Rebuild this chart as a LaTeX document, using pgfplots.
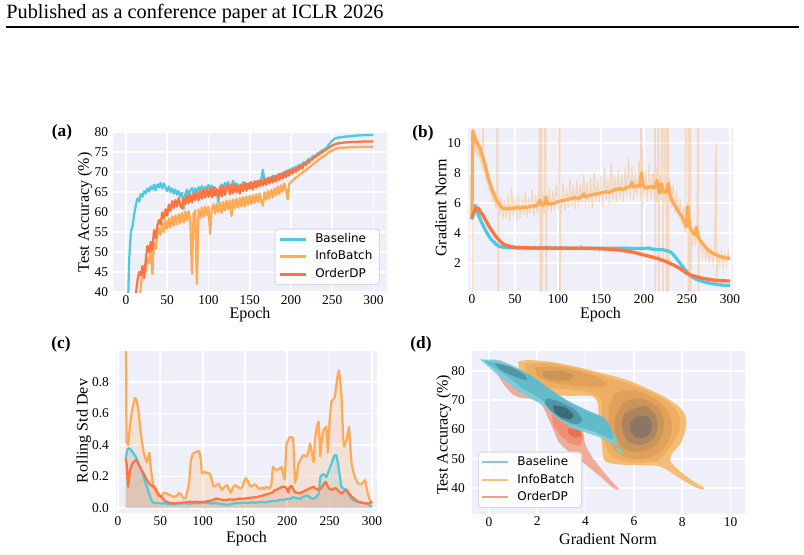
\documentclass[border=0pt]{standalone}
\usepackage{fontspec}
\setmainfont{Liberation Serif}
\newfontfamily\legendfont{DejaVu Sans}
\usepackage{pgfplots}
\usepackage{pgfplotstable}
\pgfplotsset{compat=1.18}

\definecolor{bgc}{RGB}{238,239,248}
\definecolor{cBase}{RGB}{80,200,222}
\definecolor{cInfo}{RGB}{255,170,85}
\definecolor{cOrd}{RGB}{255,115,65}
% density levels
\definecolor{ib1}{RGB}{245,188,115}
\definecolor{ib2}{RGB}{237,174,98}
\definecolor{ib3}{RGB}{224,161,88}
\definecolor{ib4}{RGB}{203,149,88}
\definecolor{ib5}{RGB}{172,133,95}
\definecolor{ib6}{RGB}{138,117,102}
\definecolor{bl1}{RGB}{115,207,224}
\definecolor{bl2}{RGB}{95,185,202}
\definecolor{bl3}{RGB}{78,148,164}
\definecolor{bl4}{RGB}{58,104,118}
\definecolor{or1}{RGB}{240,165,145}
\definecolor{or2}{RGB}{238,140,115}
\definecolor{or3}{RGB}{230,110,80}

\pgfplotsset{
  panel/.style={
    scale only axis,
    axis background/.style={fill=bgc},
    axis line style={draw=none},
    xmajorgrids, ymajorgrids,
    major grid style={white, line width=0.85pt},
    major tick length=0pt,
    tick style={draw=none},
    tick label style={font=\fontsize{6.6}{7}\selectfont},
    xticklabel style={yshift=2pt},
    label style={font=\fontsize{7.9}{9}\selectfont},
    /pgf/number format/assume math mode=true,
    legend cell align=left,
    legend image code/.code={\draw[##1] (0pt,0pt) -- (12.8pt,0pt);},
    legend style={font=\legendfont\fontsize{5.9}{7}\selectfont,
      draw=black!15, rounded corners=1.5pt, fill=white, fill opacity=0.85,
      text opacity=1, inner xsep=1.5pt, inner ysep=1.2pt, row sep=0.9pt,
      nodes={inner ysep=1pt, inner xsep=2pt, text height=4.4pt, text depth=1.3pt},
      /tikz/every odd column/.append style={column sep=2pt}},
  },
  dens/.style={draw=none, forget plot, smooth, tension=0.5},
}

% ---------------- (a) test accuracy ----------------
\pgfplotstableread[row sep=\\]{x y\\
0 25\\ 2 33\\ 4 48.5\\ 6 55\\ 8 56.5\\ 10 59.5\\ 12 61.8\\ 14 63.4\\ 16 62.6\\ 18 64.5\\
20 63.8\\ 22 65.2\\ 24 64.6\\ 26 65.9\\ 28 65.1\\ 30 66.4\\ 32 65.6\\ 34 66.8\\ 36 65.4\\ 38 66.9\\
40 66.2\\ 42 67.3\\ 44 65.9\\ 46 67.1\\ 48 66.0\\ 50 65.3\\ 52 66.4\\ 54 65.0\\ 56 65.9\\ 58 64.6\\
60 65.6\\ 62 64.3\\ 64 65.2\\ 66 63.9\\ 68 64.8\\ 70 60.8\\ 72 64.5\\ 74 65.6\\ 76 64.2\\ 78 65.3\\
80 66.0\\ 82 64.8\\ 84 65.9\\ 86 64.6\\ 88 66.2\\ 90 65.4\\ 92 66.5\\ 94 65.1\\ 96 66.3\\ 98 65.7\\
100 66.8\\ 102 65.5\\ 104 66.6\\ 106 64.9\\ 108 66.2\\ 110 65.0\\ 112 62.5\\ 114 65.8\\ 116 66.9\\ 118 65.6\\
120 67.3\\ 122 66.1\\ 124 67.5\\ 126 65.8\\ 128 66.7\\ 130 67.8\\ 132 66.0\\ 134 67.2\\ 136 65.9\\ 138 66.8\\
140 66.3\\ 142 67.4\\ 144 66.2\\ 146 67.0\\ 148 66.5\\ 150 67.3\\ 152 66.4\\ 154 67.1\\ 156 66.7\\ 158 67.6\\
160 66.9\\ 162 67.8\\ 164 68.0\\ 166 70.6\\ 168 67.5\\ 170 68.2\\ 172 67.6\\ 174 68.6\\ 176 68.0\\ 178 69.1\\
180 68.3\\ 182 69.0\\ 184 68.6\\ 186 69.6\\ 188 69.0\\ 190 69.8\\ 192 69.3\\ 194 70.3\\ 196 69.7\\ 198 70.6\\
200 70.4\\ 202 71.0\\ 204 70.6\\ 206 71.4\\ 208 71.0\\ 210 71.8\\ 212 71.4\\ 214 72.1\\ 216 72.5\\ 218 72.2\\
220 72.9\\ 222 73.3\\ 224 73.1\\ 226 73.8\\ 228 74.1\\ 230 74.0\\ 232 74.6\\ 234 74.8\\ 236 75.1\\ 238 75.4\\
240 75.6\\ 242 75.9\\ 244 76.3\\ 246 76.8\\ 248 77.3\\ 250 77.8\\ 252 78.2\\ 254 78.4\\ 256 78.5\\ 258 78.7\\
260 78.6\\ 262 78.8\\ 264 78.7\\ 266 78.9\\ 268 78.8\\ 270 79.0\\ 272 78.9\\ 274 79.0\\ 276 79.1\\ 278 79.0\\
280 79.2\\ 282 79.1\\ 284 79.2\\ 286 79.1\\ 288 79.3\\ 290 79.2\\ 292 79.3\\ 294 79.2\\ 296 79.3\\ 298 79.2\\ 300 79.3\\
}\aBase

\pgfplotstableread[row sep=\\]{x y\\
16 36\\ 18 41.5\\ 20 44.5\\ 22 46.5\\ 24 45\\ 26 48.5\\ 28 47.2\\ 30 50.5\\ 32 44.5\\ 34 52.5\\
36 50.8\\ 38 54.2\\ 40 56.0\\ 42 54.3\\ 44 57.4\\ 46 55.0\\ 48 57.9\\ 50 55.8\\ 52 58.4\\ 54 56.2\\
56 58.9\\ 58 56.6\\ 60 59.1\\ 62 56.9\\ 64 59.4\\ 66 57.2\\ 68 59.8\\ 70 57.4\\ 72 60.1\\ 74 57.9\\
76 60.2\\ 78 58.0\\ 80 44.5\\ 82 59.6\\ 84 60.4\\ 86 42.0\\ 88 60.6\\ 90 58.4\\ 92 61.1\\ 94 58.8\\
96 61.4\\ 98 59.2\\ 100 61.3\\ 102 54.5\\ 104 60.9\\ 106 61.9\\ 108 59.6\\ 110 62.1\\ 112 60.0\\ 114 62.3\\
116 59.8\\ 118 62.5\\ 120 60.4\\ 122 62.8\\ 124 60.7\\ 126 62.9\\ 128 59.0\\ 130 63.1\\ 132 61.0\\ 134 63.3\\
136 61.1\\ 138 63.5\\ 140 61.4\\ 142 63.7\\ 144 61.5\\ 146 63.9\\ 148 61.8\\ 150 64.0\\ 152 62.0\\ 154 64.2\\
156 62.3\\ 158 64.5\\ 160 62.5\\ 162 64.6\\ 164 62.7\\ 166 61.6\\ 168 64.9\\ 170 63.1\\ 172 65.2\\ 174 63.4\\
176 65.5\\ 178 63.7\\ 180 65.9\\ 182 64.2\\ 184 66.3\\ 186 64.5\\ 188 66.7\\ 190 65.1\\ 192 67.1\\ 194 65.5\\
196 63.2\\ 198 67.0\\ 200 67.5\\ 202 67.9\\ 204 68.2\\ 206 68.6\\ 208 68.9\\ 210 69.3\\ 212 69.5\\ 214 69.9\\
216 70.2\\ 218 70.4\\ 220 70.8\\ 222 71.1\\ 224 71.4\\ 226 71.8\\ 228 72.1\\ 230 72.5\\ 232 72.8\\ 234 73.1\\
236 73.4\\ 238 73.7\\ 240 74.0\\ 242 74.3\\ 244 74.6\\ 246 74.9\\ 248 75.1\\ 250 75.4\\ 252 75.6\\ 254 75.8\\
256 75.9\\ 258 76.0\\ 262 76.05\\ 266 76.1\\ 270 76.15\\ 274 76.2\\ 278 76.2\\ 282 76.25\\ 286 76.3\\ 290 76.3\\
294 76.3\\ 298 76.35\\ 300 76.3\\
}\aInfo

\pgfplotstableread[row sep=\\]{x y\\
10 35\\ 12 39.5\\ 14 43\\ 16 45\\ 18 44.2\\ 20 46.5\\ 22 43.5\\ 24 48\\ 26 51.5\\ 28 50\\
30 52.5\\ 32 50.5\\ 34 55.5\\ 36 53.5\\ 38 56.5\\ 40 58\\ 42 57.0\\ 44 59.9\\ 46 58.3\\ 48 60.7\\
50 59.1\\ 52 61.9\\ 54 60.3\\ 56 62.7\\ 58 61.0\\ 60 63.0\\ 62 61.4\\ 64 63.6\\ 66 61.6\\ 68 60.9\\
70 63.4\\ 72 61.9\\ 74 64.2\\ 76 62.2\\ 78 64.4\\ 80 62.4\\ 82 64.7\\ 84 63.0\\ 86 65.0\\ 88 62.9\\
90 65.3\\ 92 63.3\\ 94 65.6\\ 96 63.6\\ 98 65.8\\ 100 63.8\\ 102 65.9\\ 104 63.7\\ 106 66.2\\ 108 64.1\\
110 65.7\\ 112 64.0\\ 114 66.3\\ 116 63.9\\ 118 66.4\\ 120 64.3\\ 122 66.0\\ 124 66.7\\ 126 64.4\\ 128 66.8\\
130 64.7\\ 132 67.0\\ 134 64.9\\ 136 66.5\\ 138 64.6\\ 140 66.9\\ 142 65.2\\ 144 67.4\\ 146 65.3\\ 148 67.1\\
150 65.8\\ 152 67.5\\ 154 65.6\\ 156 67.7\\ 158 66.1\\ 160 67.8\\ 162 66.4\\ 164 68.0\\ 166 66.6\\ 168 68.3\\
170 66.8\\ 172 68.5\\ 174 67.1\\ 176 68.7\\ 178 67.4\\ 180 69.0\\ 182 67.6\\ 184 69.3\\ 186 68.0\\ 188 69.6\\
190 68.4\\ 192 70.0\\ 194 68.7\\ 196 70.3\\ 198 69.1\\ 200 70.5\\ 202 69.6\\ 204 70.9\\ 206 70.0\\ 208 71.3\\
210 70.5\\ 212 71.7\\ 214 70.9\\ 216 72.2\\ 218 71.7\\ 220 72.7\\ 222 72.3\\ 224 73.1\\ 226 73.1\\ 228 73.7\\
230 73.7\\ 232 74.3\\ 234 74.3\\ 236 74.8\\ 238 74.9\\ 240 75.3\\ 242 75.5\\ 244 75.8\\ 246 76.1\\ 248 76.3\\
250 76.6\\ 252 76.8\\ 254 77.0\\ 256 77.1\\ 258 77.2\\ 262 77.3\\ 266 77.4\\ 270 77.45\\ 274 77.5\\ 278 77.5\\
282 77.55\\ 286 77.6\\ 290 77.6\\ 294 77.6\\ 298 77.65\\ 300 77.6\\
}\aOrd

% ---------------- (b) gradient norm ----------------
\pgfplotstableread[row sep=\\]{x y\\
0 4.9\\ 1 5.5\\ 3 5.85\\ 5 5.6\\ 7 5.25\\ 10 4.85\\ 13 4.5\\ 16 4.15\\ 19 3.85\\ 22 3.6\\
25 3.42\\ 28 3.25\\ 31 3.13\\ 34 3.07\\ 38 3.04\\ 45 3.02\\ 55 3.0\\ 70 3.0\\ 90 2.99\\ 110 2.99\\
130 2.98\\ 150 2.98\\ 170 2.98\\ 190 2.97\\ 200 2.96\\ 205 3.0\\ 210 2.92\\ 215 2.9\\ 222 2.88\\ 226 2.82\\
230 2.76\\ 233 2.62\\ 236 2.42\\ 239 2.2\\ 242 1.98\\ 245 1.75\\ 248 1.53\\ 251 1.33\\ 254 1.17\\ 257 1.03\\
261 0.91\\ 265 0.82\\ 270 0.74\\ 275 0.67\\ 280 0.62\\ 285 0.57\\ 290 0.53\\ 295 0.5\\ 300 0.49\\
}\bBase

\pgfplotstableread[row sep=\\]{x y\\
0 5.0\\ 1 10.8\\ 3 10.4\\ 5 10.1\\ 7 9.9\\ 9 9.7\\ 11 9.3\\ 13 9.0\\ 15 8.6\\ 17 8.1\\
19 7.65\\ 21 7.3\\ 23 6.95\\ 25 6.65\\ 27 6.4\\ 29 6.15\\ 31 6.0\\ 33 5.8\\ 36 5.65\\ 40 5.6\\
44 5.65\\ 48 5.62\\ 52 5.7\\ 56 5.65\\ 60 5.72\\ 64 5.7\\ 68 5.78\\ 72 5.8\\ 76 5.85\\ 79 6.2\\
81 5.85\\ 84 5.9\\ 86 6.4\\ 88 5.9\\ 92 5.95\\ 96 6.0\\ 100 6.1\\ 104 6.15\\ 108 6.2\\ 112 6.25\\
116 6.3\\ 120 6.35\\ 124 6.3\\ 128 6.45\\ 130 6.6\\ 132 6.4\\ 136 6.5\\ 140 6.55\\ 144 6.6\\ 148 6.65\\
152 6.7\\ 156 6.75\\ 160 6.7\\ 164 6.85\\ 168 6.9\\ 172 6.95\\ 176 6.9\\ 180 7.05\\ 184 7.1\\ 186 7.4\\
188 7.05\\ 192 7.15\\ 195 7.1\\ 197 8.0\\ 199 7.2\\ 201 7.0\\ 205 7.05\\ 209 7.1\\ 212 7.0\\ 215 7.5\\
218 6.65\\ 220 7.3\\ 222 6.8\\ 224 6.7\\ 226 6.75\\ 228 7.3\\ 230 6.6\\ 232 6.2\\ 235 5.9\\ 238 5.64\\
241 5.35\\ 244 5.09\\ 247 4.7\\ 249 4.42\\ 251 5.76\\ 253 4.5\\ 255 4.2\\ 257 4.0\\ 259 3.87\\ 261 4.4\\
263 3.75\\ 265 3.53\\ 268 3.3\\ 271 3.09\\ 274 2.9\\ 277 2.76\\ 280 2.65\\ 284 2.53\\ 288 2.44\\ 292 2.38\\
296 2.33\\ 300 2.31\\
}\bInfo

\pgfplotstableread[row sep=\\]{x y\\
0 5.0\\ 2 5.35\\ 4 5.6\\ 6 5.68\\ 8 5.6\\ 10 5.4\\ 13 5.15\\ 16 4.85\\ 19 4.53\\ 22 4.25\\
25 4.0\\ 28 3.75\\ 31 3.55\\ 34 3.38\\ 37 3.25\\ 41 3.15\\ 46 3.08\\ 52 3.04\\ 60 3.02\\ 70 3.0\\
90 2.99\\ 110 2.98\\ 130 2.98\\ 150 2.95\\ 168 2.88\\ 184 2.76\\ 199 2.55\\ 215 2.31\\ 226 2.09\\ 238 1.76\\
244 1.55\\ 249 1.33\\ 254 1.2\\ 260 1.1\\ 265 1.02\\ 270 0.96\\ 277 0.9\\ 284 0.84\\ 292 0.81\\ 300 0.8\\
}\bOrd

% per-epoch InfoBatch gradient norm, with its outlier epochs
\pgfplotstableread[row sep=\\]{x y\\
0 5.0\\ 0.5 40\\ 0.7 -5\\ 1 11.3\\ 2 9.6\\ 3 10.9\\ 4 9.4\\ 5 10.6\\ 6 9.2\\ 7 10.3\\
8 9.0\\ 9 10.1\\ 10 8.7\\ 11 9.8\\ 12 8.2\\ 13 11.5\\ 14 8.0\\ 15 8.9\\ 16 7.6\\ 17 8.5\\
18 7.2\\ 19 8.0\\ 20 6.8\\ 21 7.6\\ 22 6.5\\ 23 7.2\\ 24 6.1\\ 25 7.0\\ 26 5.9\\ 27 6.6\\
28 5.6\\ 29 6.5\\ 30 40\\ 30.2 -5\\ 31 6.1\\ 32 5.1\\ 34 6.4\\ 36 4.9\\ 38 6.2\\ 40 5.0\\
42 6.5\\ 44 4.8\\ 46 7.0\\ 48 5.1\\ 50 6.3\\ 52 4.9\\ 54 6.6\\ 56 5.0\\ 58 6.2\\ 60 5.2\\
62 6.8\\ 64 5.0\\ 66 6.4\\ 68 5.3\\ 70 6.9\\ 72 5.1\\ 74 6.5\\ 76 5.3\\ 78 6.7\\ 79 40\\
79.2 -5\\ 80 5.4\\ 81 40\\ 81.2 -5\\ 82 6.6\\ 84 5.3\\ 86 40\\ 86.2 -5\\ 87 6.4\\ 88 5.6\\
90 7.0\\ 92 5.4\\ 94 6.8\\ 96 5.5\\ 98 7.2\\ 100 5.6\\ 102 40\\ 102.2 -5\\ 103 6.0\\ 104 5.6\\
106 7.3\\ 108 5.5\\ 110 7.0\\ 112 5.7\\ 114 7.6\\ 116 5.8\\ 118 7.2\\ 120 5.6\\ 122 7.5\\ 124 5.8\\
126 7.3\\ 128 6.0\\ 130 7.9\\ 132 5.9\\ 134 7.4\\ 136 6.0\\ 138 7.7\\ 140 5.7\\ 142 8.0\\ 144 6.1\\
146 7.5\\ 148 6.0\\ 150 7.8\\ 152 5.8\\ 154 8.4\\ 156 6.2\\ 158 7.6\\ 160 5.9\\ 162 8.7\\ 164 6.2\\
166 7.8\\ 168 6.0\\ 170 8.2\\ 172 6.3\\ 174 7.9\\ 176 6.1\\ 178 8.3\\ 180 6.4\\ 182 9.0\\ 184 6.3\\
186 8.5\\ 188 6.2\\ 190 8.1\\ 192 6.5\\ 194 8.8\\ 196 6.4\\ 197 40\\ 197.2 2.3\\ 198 9.6\\ 200 6.3\\
202 8.2\\ 204 6.1\\ 206 8.6\\ 208 6.3\\ 210 8.0\\ 212 6.2\\ 213 40\\ 213.2 -5\\ 214 8.4\\ 216 6.0\\
217 40\\ 217.2 -5\\ 218 7.9\\ 220 6.2\\ 222 40\\ 222.2 -5\\ 223 7.4\\ 224 6.0\\ 226 40\\ 226.2 -5\\
227 7.0\\ 228 40\\ 228.2 -5\\ 229 6.5\\ 230 7.6\\ 232 5.7\\ 234 7.2\\ 236 5.3\\ 238 6.8\\ 240 5.0\\
242 6.3\\ 244 4.6\\ 246 5.7\\ 248 4.0\\ 250 40\\ 250.2 -5\\ 251 5.2\\ 252 40\\ 252.2 -5\\ 253 4.5\\
254 40\\ 254.2 -5\\ 255 3.6\\ 256 3.3\\ 258 4.2\\ 260 3.2\\ 262 4.6\\ 263 40\\ 263.2 -5\\ 264 2.8\\
266 3.5\\ 268 2.5\\ 270 3.2\\ 272 2.3\\ 274 3.0\\ 276 2.1\\ 278 2.9\\ 280 2.0\\ 282 2.8\\ 284 10.0\\
284.2 0.5\\ 286 2.6\\ 288 1.9\\ 290 2.7\\ 292 1.8\\ 294 2.6\\ 296 1.9\\ 298 2.8\\ 300 2.2\\
}\bInfoRaw

\pgfplotstableread[row sep=\\]{x y\\
0 4.9\\ 2 5.5\\ 4 5.75\\ 6 5.9\\ 8 5.5\\ 10 5.55\\ 12 5.05\\ 14 5.1\\ 16 4.7\\ 18 4.75\\
20 4.3\\ 22 4.35\\ 24 3.95\\ 26 4.0\\ 28 3.65\\ 30 3.7\\ 32 3.4\\ 34 3.45\\ 36 3.2\\ 38 3.3\\
40 3.05\\ 43 3.25\\ 46 2.95\\ 49 3.18\\ 52 2.9\\ 55 3.15\\ 58 2.92\\ 61 3.12\\ 64 2.88\\ 67 3.1\\
70 2.9\\ 73 3.15\\ 76 2.87\\ 79 3.12\\ 82 2.9\\ 85 3.1\\ 88 2.86\\ 91 3.13\\ 94 2.88\\ 97 3.1\\
100 2.85\\ 103 3.12\\ 106 2.88\\ 109 3.08\\ 112 2.87\\ 115 3.11\\ 118 2.86\\ 121 3.1\\ 124 2.88\\ 127 3.2\\
130 2.86\\ 133 3.07\\ 136 2.85\\ 139 3.08\\ 142 2.84\\ 145 3.05\\ 148 2.82\\ 151 3.06\\ 154 2.8\\ 157 3.02\\
160 2.8\\ 163 3.0\\ 166 2.78\\ 169 2.98\\ 172 2.76\\ 175 2.96\\ 178 2.7\\ 181 2.92\\ 184 2.65\\ 187 2.88\\
190 2.6\\ 193 2.75\\ 196 2.48\\ 199 2.68\\ 202 2.4\\ 205 2.6\\ 208 2.32\\ 211 2.5\\ 214 2.22\\ 217 2.42\\
220 2.1\\ 223 2.25\\ 226 1.98\\ 229 2.12\\ 232 1.82\\ 235 1.95\\ 238 1.66\\ 241 1.75\\ 244 1.46\\ 247 1.5\\
250 1.25\\ 253 1.3\\ 256 1.1\\ 259 1.18\\ 262 1.0\\ 265 1.08\\ 268 0.9\\ 271 1.02\\ 274 0.85\\ 277 0.97\\
280 0.78\\ 283 0.92\\ 286 0.74\\ 289 0.9\\ 292 0.72\\ 295 0.9\\ 298 0.73\\ 300 0.85\\
}\bOrdRaw

% ---------------- (c) rolling standard deviation ----------------
\pgfplotstableread[row sep=\\]{x y\\
9 0.315\\ 11 0.37\\ 13 0.38\\ 15 0.37\\ 17 0.357\\ 19 0.34\\ 21 0.326\\ 23 0.30\\ 25 0.27\\ 27 0.25\\
29 0.22\\ 31 0.18\\ 33 0.15\\ 35 0.12\\ 37 0.085\\ 39 0.055\\ 41 0.037\\ 43 0.032\\ 45 0.03\\ 47 0.033\\
49 0.03\\ 51 0.028\\ 53 0.032\\ 55 0.03\\ 57 0.027\\ 60 0.024\\ 63 0.025\\ 66 0.022\\ 69 0.027\\ 72 0.03\\
75 0.028\\ 78 0.031\\ 81 0.03\\ 84 0.027\\ 87 0.03\\ 90 0.033\\ 93 0.029\\ 96 0.031\\ 99 0.03\\ 102 0.035\\
105 0.032\\ 108 0.03\\ 111 0.028\\ 114 0.033\\ 117 0.03\\ 120 0.027\\ 123 0.024\\ 126 0.022\\ 129 0.02\\ 132 0.022\\
135 0.026\\ 138 0.03\\ 141 0.032\\ 144 0.03\\ 147 0.035\\ 150 0.033\\ 153 0.031\\ 156 0.034\\ 159 0.036\\ 162 0.033\\
165 0.036\\ 168 0.038\\ 171 0.037\\ 174 0.035\\ 177 0.039\\ 180 0.042\\ 183 0.045\\ 186 0.043\\ 189 0.048\\ 192 0.052\\
195 0.05\\ 198 0.055\\ 201 0.06\\ 204 0.058\\ 207 0.069\\ 210 0.064\\ 213 0.06\\ 215 0.058\\ 218 0.07\\ 221 0.075\\
223 0.08\\ 226 0.07\\ 229 0.06\\ 231 0.058\\ 234 0.07\\ 237 0.09\\ 239 0.195\\ 241 0.21\\ 243 0.215\\ 245 0.205\\
246 0.195\\ 248 0.22\\ 250 0.25\\ 252 0.28\\ 254 0.31\\ 256 0.336\\ 258 0.335\\ 260 0.28\\ 261 0.24\\ 263 0.17\\
264 0.135\\ 266 0.125\\ 268 0.12\\ 270 0.115\\ 272 0.09\\ 274 0.072\\ 276 0.06\\ 278 0.05\\ 280 0.045\\ 282 0.04\\
286 0.035\\ 290 0.032\\ 294 0.03\\ 297 0.02\\ 300 0.008\\
}\cBase

\pgfplotstableread[row sep=\\]{x y\\
9 1.5\\ 10 0.42\\ 12 0.40\\ 14 0.52\\ 16 0.60\\ 18 0.66\\ 20 0.70\\ 22 0.68\\ 24 0.62\\ 26 0.52\\
28 0.43\\ 30 0.36\\ 32 0.32\\ 34 0.29\\ 36 0.33\\ 37 0.35\\ 39 0.24\\ 40 0.20\\ 42 0.13\\ 44 0.11\\
46 0.095\\ 48 0.075\\ 50 0.07\\ 52 0.08\\ 54 0.095\\ 56 0.097\\ 58 0.09\\ 60 0.085\\ 62 0.08\\ 64 0.075\\
66 0.07\\ 68 0.075\\ 70 0.08\\ 72 0.095\\ 74 0.09\\ 76 0.07\\ 78 0.06\\ 80 0.065\\ 82 0.11\\ 84 0.16\\
86 0.30\\ 88 0.34\\ 90 0.35\\ 92 0.355\\ 94 0.36\\ 96 0.36\\ 98 0.30\\ 99 0.22\\ 101 0.225\\ 103 0.23\\
105 0.22\\ 107 0.22\\ 109 0.215\\ 111 0.17\\ 113 0.135\\ 115 0.14\\ 117 0.15\\ 119 0.155\\ 121 0.13\\ 123 0.115\\
125 0.13\\ 127 0.14\\ 129 0.145\\ 131 0.12\\ 133 0.095\\ 135 0.12\\ 137 0.14\\ 139 0.145\\ 141 0.135\\ 143 0.13\\
145 0.125\\ 147 0.135\\ 149 0.17\\ 151 0.19\\ 153 0.175\\ 155 0.15\\ 157 0.135\\ 159 0.14\\ 161 0.15\\ 163 0.145\\
165 0.13\\ 167 0.12\\ 169 0.125\\ 171 0.13\\ 173 0.12\\ 175 0.135\\ 177 0.13\\ 179 0.125\\ 181 0.14\\ 183 0.26\\
185 0.25\\ 187 0.24\\ 189 0.245\\ 191 0.25\\ 193 0.26\\ 195 0.22\\ 197 0.18\\ 199 0.41\\ 201 0.43\\ 203 0.45\\
205 0.45\\ 207 0.44\\ 209 0.16\\ 211 0.2\\ 213 0.28\\ 215 0.30\\ 217 0.32\\ 219 0.336\\ 221 0.33\\ 223 0.326\\
225 0.36\\ 227 0.41\\ 229 0.35\\ 231 0.29\\ 233 0.45\\ 235 0.516\\ 237 0.55\\ 239 0.33\\ 241 0.45\\ 243 0.495\\
245 0.51\\ 246 0.516\\ 248 0.35\\ 250 0.55\\ 252 0.675\\ 254 0.69\\ 256 0.70\\ 258 0.78\\ 259 0.83\\ 261 0.875\\
263 0.78\\ 264 0.71\\ 266 0.45\\ 267 0.39\\ 269 0.42\\ 270 0.43\\ 272 0.49\\ 273 0.516\\ 275 0.35\\ 276 0.28\\
278 0.23\\ 280 0.195\\ 282 0.17\\ 284 0.155\\ 286 0.15\\ 288 0.155\\ 290 0.165\\ 292 0.176\\ 294 0.12\\ 295 0.093\\
297 0.06\\ 298 0.05\\ 300 0.03\\
}\cInfo

\pgfplotstableread[row sep=\\]{x y\\
9 0.315\\ 10 0.29\\ 12 0.135\\ 14 0.24\\ 16 0.27\\ 18 0.29\\ 20 0.30\\ 21 0.305\\ 23 0.29\\ 25 0.27\\
27 0.25\\ 29 0.23\\ 31 0.21\\ 33 0.19\\ 35 0.17\\ 37 0.155\\ 39 0.145\\ 41 0.14\\ 43 0.135\\ 45 0.115\\
47 0.093\\ 49 0.08\\ 51 0.072\\ 53 0.06\\ 55 0.048\\ 57 0.04\\ 60 0.034\\ 63 0.03\\ 66 0.029\\ 70 0.031\\
74 0.033\\ 78 0.035\\ 82 0.037\\ 85 0.04\\ 88 0.038\\ 92 0.04\\ 96 0.037\\ 100 0.04\\ 104 0.04\\ 108 0.045\\
112 0.05\\ 116 0.06\\ 120 0.055\\ 124 0.05\\ 128 0.05\\ 132 0.055\\ 136 0.052\\ 140 0.056\\ 144 0.06\\ 148 0.058\\
152 0.062\\ 156 0.065\\ 160 0.067\\ 164 0.069\\ 168 0.075\\ 172 0.08\\ 176 0.088\\ 180 0.093\\ 183 0.1\\ 185 0.112\\
187 0.115\\ 189 0.12\\ 191 0.126\\ 193 0.132\\ 195 0.135\\ 197 0.135\\ 199 0.125\\ 201 0.1\\ 203 0.135\\ 205 0.14\\
207 0.12\\ 209 0.10\\ 211 0.098\\ 213 0.095\\ 215 0.093\\ 217 0.1\\ 219 0.105\\ 221 0.11\\ 223 0.115\\ 225 0.12\\
227 0.125\\ 229 0.13\\ 231 0.135\\ 233 0.125\\ 235 0.12\\ 237 0.115\\ 239 0.12\\ 241 0.135\\ 243 0.15\\ 245 0.166\\
246 0.16\\ 248 0.135\\ 250 0.12\\ 252 0.115\\ 254 0.12\\ 256 0.125\\ 258 0.124\\ 260 0.11\\ 262 0.10\\ 264 0.093\\
266 0.1\\ 268 0.11\\ 270 0.115\\ 272 0.1\\ 274 0.085\\ 276 0.072\\ 278 0.065\\ 280 0.055\\ 282 0.048\\ 284 0.04\\
287 0.035\\ 290 0.032\\ 292 0.03\\ 295 0.028\\ 297 0.03\\ 300 0.04\\
}\cOrd

\begin{document}
\begin{tikzpicture}[x=0.49254pt, y=0.49254pt]
\path[use as bounding box] (0,0) rectangle (804,554);
% lower-left corners of the four plot areas
\coordinate (PA) at (113,262);
\coordinate (PB) at (468,263);
\coordinate (PC) at (116,41);
\coordinate (PD) at (472,40);

% page header
\node[anchor=base west, inner sep=0pt, font=\fontsize{10}{12}\selectfont] at (6,535)
  {Published as a conference paper at ICLR 2026};
\draw[line width=0.5pt] (6,527) -- (799,527);

% panel tags
\node[font=\bfseries\fontsize{8.5}{10}\selectfont] at (62,422) {(a)};
\node[font=\bfseries\fontsize{8.5}{10}\selectfont] at (423,421) {(b)};
\node[font=\bfseries\fontsize{8.5}{10}\selectfont] at (61,210) {(c)};
\node[font=\bfseries\fontsize{8.5}{10}\selectfont] at (421,210) {(d)};

% (a)
\begin{axis}[panel, at={(PA)}, anchor=south west,
  width=134.96pt, height=78.81pt,
  xmin=-15.7, xmax=316.5, ymin=40, ymax=80,
  xtick={0,50,...,300}, ytick={40,45,...,80},
  yticklabel style={xshift=1.1pt},
  xlabel={Epoch}, ylabel={Test Accuracy (\%)},
  xlabel style={at={(axis description cs:0.5,-0.1625)}, anchor=base},
  ylabel style={at={(axis description cs:-0.102,0.497)}, anchor=center},
  legend style={at={(0.974,0.044)}, anchor=south east}]
\addplot[cBase, line width=1.1pt, line join=round, forget plot] table {\aBase};
\addplot[cInfo, line width=1.1pt, line join=round, forget plot] table {\aInfo};
\addplot[cOrd, line width=1.1pt, line join=round, forget plot] table {\aOrd};
\addlegendimage{cBase, line width=1.6pt}\addlegendentry{Baseline}
\addlegendimage{cInfo, line width=1.6pt}\addlegendentry{InfoBatch}
\addlegendimage{cOrd, line width=1.6pt}\addlegendentry{OrderDP}
\end{axis}

% (b)
\begin{axis}[panel, at={(PB)}, anchor=south west,
  width=130.52pt, height=80.28pt,
  xmin=-4.6, xmax=303.5, ymin=0.13, ymax=11,
  xtick={0,50,...,300}, ytick={2,4,6,8,10},
  xlabel={Epoch}, ylabel={Gradient Norm},
  xlabel style={at={(axis description cs:0.5,-0.166)}, anchor=base},
  ylabel style={at={(axis description cs:-0.102,0.509)}, anchor=center}]
\addplot[cInfo, line width=0.6pt, opacity=0.35] table {\bInfoRaw};
\addplot[cOrd, line width=0.5pt, opacity=0.4] table {\bOrdRaw};
\addplot[cBase, line width=1.6pt, line join=round] table {\bBase};
\addplot[cInfo, line width=1.6pt, line join=round] table {\bInfo};
\addplot[cOrd, line width=1.6pt, line join=round] table {\bOrd};
\end{axis}

% (c)
\begin{axis}[panel, at={(PC)}, anchor=south west,
  width=128.55pt, height=79.79pt,
  xmin=-2.4, xmax=306, ymin=-0.032, ymax=0.997,
  xtick={0,50,...,300}, ytick={0,0.2,0.4,0.6,0.8},
  yticklabel style={/pgf/number format/.cd, fixed, fixed zerofill, precision=1},
  xlabel={Epoch}, ylabel={Rolling Std Dev},
  xlabel style={at={(axis description cs:0.5,-0.185)}, anchor=base},
  ylabel style={at={(axis description cs:-0.123,0.506)}, anchor=center}]
\addplot[draw=none, fill=cBase, fill opacity=0.2] table {\cBase} \closedcycle;
\addplot[draw=none, fill=cInfo, fill opacity=0.2] table {\cInfo} \closedcycle;
\addplot[draw=none, fill=cOrd, fill opacity=0.2] table {\cOrd} \closedcycle;
\addplot[cBase, line width=1.1pt, line join=round] table {\cBase};
\addplot[cInfo, line width=1.1pt, line join=round] table {\cInfo};
\addplot[cOrd, line width=1.1pt, line join=round] table {\cOrd};
\end{axis}

% (d)
\begin{axis}[panel, at={(PD)}, anchor=south west,
  width=134.46pt, height=80.28pt,
  xmin=-0.7, xmax=10.6, ymin=31.1, ymax=86.8,
  xtick={0,2,...,10}, ytick={40,50,...,80},
  xlabel={Gradient Norm}, ylabel={Test Accuracy (\%)},
  xlabel style={at={(axis description cs:0.498,-0.184)}, anchor=base},
  ylabel style={at={(axis description cs:-0.103,0.485)}, anchor=center},
  legend style={at={(0.022,0.037)}, anchor=south west}]
% InfoBatch density
\addplot[dens, fill=ib1] coordinates {(1.22,83.1) (1.29,79.7) (1.70,75.7) (2.25,72.3) (3.22,71.5) (4.19,71.5) (4.47,69.8) (4.54,65.5) (4.56,60.9) (4.68,55.2) (4.77,49.5) (5.30,48.1) (6.27,47.8) (7.10,47.3) (7.79,43.9) (8.48,40.5) (8.82,39.6) (8.89,40.2) (8.48,42.2) (7.93,45.6) (7.51,49.0) (7.58,51.8) (7.93,55.2) (8.13,59.8) (8.16,63.8) (7.93,67.2) (7.37,70.6) (6.54,74.0) (5.71,76.9) (4.60,79.4) (3.50,81.6) (2.53,83.1) (1.70,83.7) (1.29,83.4) (1.22,83.1)};
\addplot[dens, fill=ib2] coordinates {(1.49,82.55) (2.53,82.55) (3.64,80.84) (4.74,78.23) (5.85,75.49) (6.82,72.08) (7.51,68.67) (7.86,64.91) (7.90,60.37) (7.65,55.81) (7.30,51.83) (6.96,49.33) (6.27,48.65) (5.44,49.33) (4.99,51.83) (4.77,56.38) (4.69,61.5) (4.69,66.62) (4.61,70.6) (4.05,72.88) (3.22,73.67) (2.39,74.58) (1.84,76.86) (1.54,79.7) (1.49,82.55)};
\addplot[dens, fill=ib3] coordinates {(1.91,81.18) (2.81,81.41) (3.78,79.70) (4.61,77.43) (4.88,75.15) (4.33,74.58) (3.50,75.15) (2.67,75.95) (2.05,78.0) (1.91,81.18)};
\addplot[dens, fill=ib4] coordinates {(2.25,79.7) (2.95,80.05) (3.50,78.57) (3.36,76.86) (2.67,76.86) (2.25,78.0) (2.25,79.7)};
\addplot[dens, fill=ib3] coordinates {(5.16,72.31) (5.99,73.45) (6.82,70.6) (7.37,66.62) (7.58,61.5) (7.44,56.38) (7.10,52.4) (6.54,50.13) (5.85,50.13) (5.30,52.06) (5.02,56.38) (4.95,62.07) (4.99,67.76) (5.16,72.31)};
\addplot[dens, fill=ib4] coordinates {(5.57,69.4) (6.27,70.6) (6.96,67.76) (7.23,63.2) (7.16,58.09) (6.82,54.1) (6.20,52.4) (5.57,53.54) (5.27,57.52) (5.23,63.78) (5.57,69.4)};
\addplot[dens, fill=ib5] coordinates {(5.85,66.62) (6.47,67.99) (6.89,64.91) (6.98,60.37) (6.75,56.38) (6.20,54.68) (5.71,56.38) (5.50,60.94) (5.57,64.91) (5.85,66.62)};
\addplot[dens, fill=ib6] coordinates {(6.06,64.12) (6.54,64.57) (6.75,61.5) (6.61,58.09) (6.20,56.95) (5.88,59.23) (5.85,62.07) (6.06,64.12)};
% OrderDP density
\addplot[dens, fill=or1, fill opacity=0.9] coordinates {(0.07,83.9) (0.46,83.5) (1.01,81.6) (1.56,79.1) (2.12,76.3) (2.67,72.3) (3.22,66.6) (3.71,62.1) (3.91,58.7) (3.98,55.2) (4.26,50.7) (4.74,45.6) (5.16,41.6) (5.39,39.5) (5.16,39.9) (4.61,43.9) (3.85,49.0) (3.22,53.0) (2.88,55.8) (2.67,59.8) (2.46,63.8) (2.19,68.3) (1.84,70.3) (1.29,70.9) (0.94,72.3) (0.59,75.7) (0.25,80.3) (0.07,83.1) (0.07,83.9)};
\addplot[dens, fill=or2, fill opacity=0.9] coordinates {(2.60,65.48) (3.22,64.57) (3.71,61.5) (3.89,57.52) (3.78,54.68) (3.36,55.25) (2.95,58.09) (2.67,61.5) (2.60,65.48)};
\addplot[dens, fill=or2, fill opacity=0.9] coordinates {(0.25,83.1) (0.87,82.0) (1.29,79.7) (0.87,79.14) (0.33,81.18) (0.25,83.1)};
\addplot[dens, fill=or3, fill opacity=0.9] coordinates {(3.29,60.37) (3.71,59.8) (3.82,57.75) (3.50,57.29) (3.29,58.7) (3.29,60.37)};
% Baseline density
\addplot[dens, fill=bl1, fill opacity=0.9] coordinates {(-0.37,83.9) (0.46,83.5) (1.29,80.5) (1.98,77.1) (2.53,73.7) (3.50,68.0) (4.19,65.5) (4.74,63.2) (5.09,59.8) (5.27,56.4) (5.30,54.6) (5.09,55.2) (4.60,57.3) (3.91,59.2) (3.36,60.9) (2.81,64.1) (2.25,68.3) (1.84,70.0) (1.15,73.5) (0.46,78.0) (-0.10,82.0) (-0.37,83.9)};
\addplot[dens, fill=bl1, fill opacity=0.9] coordinates {(5.30,53.88) (5.44,53.2) (5.55,51.6) (5.44,51.83) (5.27,53.0) (5.30,53.88)};
\addplot[dens, fill=bl2, fill opacity=0.9] coordinates {(-0.17,83.5) (0.73,81.98) (1.70,78.57) (2.39,74.58) (3.22,70.03) (4.05,66.62) (4.74,64.12) (5.02,60.94) (5.16,56.95) (4.95,56.95) (4.47,58.88) (3.78,60.71) (3.22,62.64) (2.67,66.05) (2.12,70.6) (1.42,74.0) (0.59,79.14) (-0.07,82.55) (-0.17,83.5)};
\addplot[dens, fill=bl3, fill opacity=0.9] coordinates {(0.25,82.55) (0.87,81.41) (1.49,78.57) (1.56,76.86) (1.08,78.0) (0.46,80.5) (0.25,82.55)};
\addplot[dens, fill=bl3, fill opacity=0.9] coordinates {(2.39,70.6) (2.95,69.4) (3.57,66.62) (3.85,63.2) (3.64,61.84) (3.08,63.2) (2.60,66.05) (2.32,68.9) (2.39,70.6)};
\addplot[dens, fill=bl4, fill opacity=0.9] coordinates {(2.67,68.3) (3.15,67.53) (3.50,64.91) (3.36,63.44) (2.95,64.34) (2.70,66.28) (2.67,68.3)};
\addlegendimage{color={rgb,255:red,120;green,205;blue,225}, line width=0.9pt}\addlegendentry{Baseline}
\addlegendimage{color={rgb,255:red,250;green,190;blue,120}, line width=0.9pt}\addlegendentry{InfoBatch}
\addlegendimage{color={rgb,255:red,240;green,160;blue,135}, line width=0.9pt}\addlegendentry{OrderDP}
\end{axis}
\end{tikzpicture}
\end{document}
